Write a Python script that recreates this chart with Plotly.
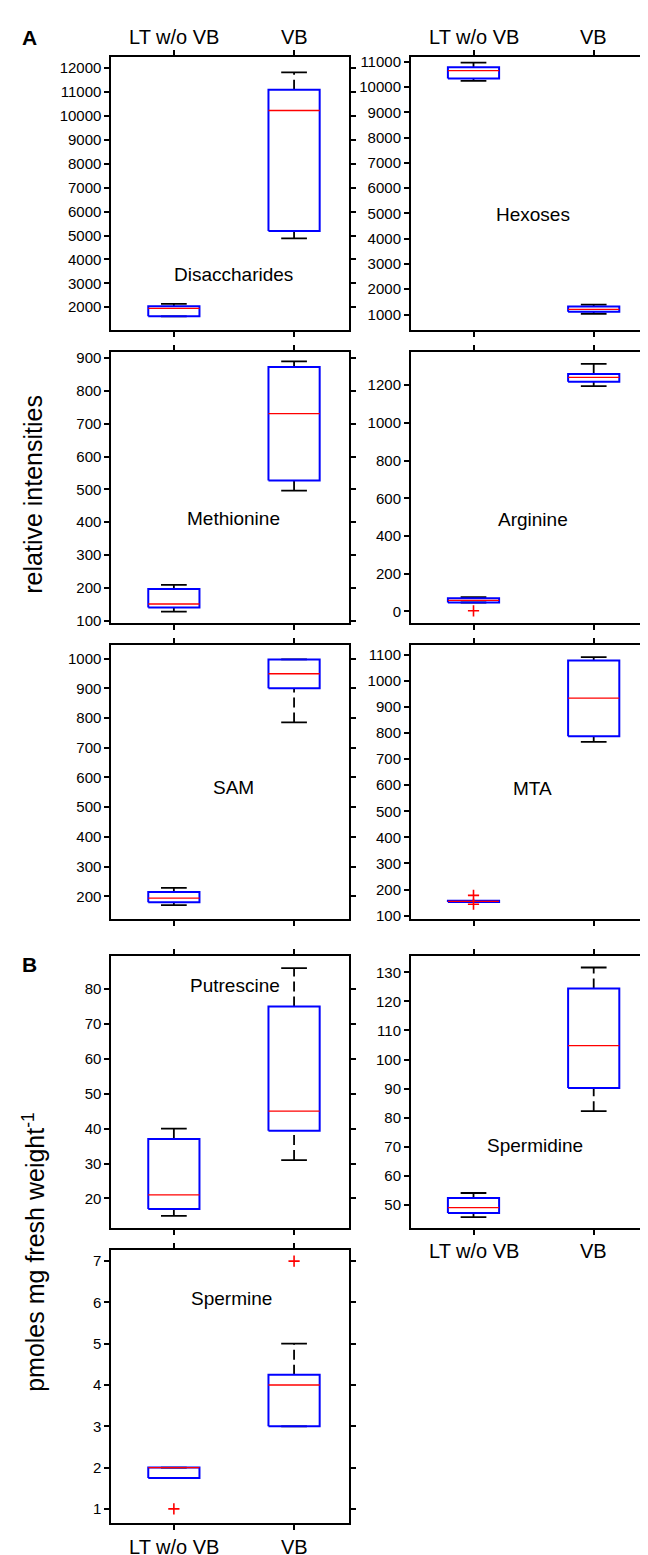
import plotly.graph_objects as go

# ---------------- data ----------------
categories = ["LT w/o VB", "VB"]
panel_names = ["Disaccharides", "Hexoses", "Methionine", "Arginine", "SAM", "MTA",
               "Putrescine", "Spermidine", "Spermine"]

# box-plot statistics per panel (lower whisker, Q1, median, Q3, upper whisker)
lt_low  = [1620, 10240, 128, 47, 170, 153, 15, 45.7, 1.75]
lt_q1   = [1620, 10340, 140, 47, 180, 153, 17, 47.1, 1.75]
lt_med  = [1950, 10650, 151, 58, 194, 155, 21, 49.0, 2.0]
lt_q3   = [2040, 10780, 197, 70, 214, 157, 37, 52.3, 2.0]
lt_high = [2140, 10960, 209, 76, 228, 157, 40, 54.0, 2.0]

vb_low  = [4880, 1030, 496, 1195, 785, 766, 31.0, 82.2, 3.0]
vb_q1   = [5190, 1110, 527, 1218, 900, 787, 39.4, 90.2, 3.0]
vb_med  = [10230, 1200, 731, 1242, 949, 933, 45.0, 104.8, 4.0]
vb_q3   = [11100, 1315, 873, 1260, 997, 1077, 75.0, 124.5, 4.25]
vb_high = [11820, 1395, 890, 1313, 997, 1090, 86.0, 131.7, 5.0]

lt_outliers = [[], [], [], [3], [], [178, 144], [], [], [1]]
vb_outliers = [[], [], [], [], [], [], [], [], [7]]

y_ticks = [
    [2000, 3000, 4000, 5000, 6000, 7000, 8000, 9000, 10000, 11000, 12000],
    [1000, 2000, 3000, 4000, 5000, 6000, 7000, 8000, 9000, 10000, 11000],
    [100, 200, 300, 400, 500, 600, 700, 800, 900],
    [0, 200, 400, 600, 800, 1000, 1200],
    [200, 300, 400, 500, 600, 700, 800, 900, 1000],
    [100, 200, 300, 400, 500, 600, 700, 800, 900, 1000, 1100],
    [20, 30, 40, 50, 60, 70, 80],
    [50, 60, 70, 80, 90, 100, 110, 120, 130],
    [1, 2, 3, 4, 5, 6, 7],
]
y_ranges = [[1030, 12450], [370, 11170], [93, 920], [-62, 1379], [123, 1047],
            [87, 1138], [11.4, 89.5], [41.8, 135.7], [0.66, 7.27]]

ytitle_a = "relative intensities"
ytitle_b = "pmoles mg fresh weight<sup>-1</sup>"

# ---------------- layout geometry (pixels) ----------------
W, H = 648, 1555
col_px = [(104, 343), (405.5, 644.5)]
row_px = [(45.7, 320.5), (341.7, 615), (636.7, 913), (950, 1224.3), (1246, 1520.7)]
panel_cell = [(0, 0), (0, 1), (1, 0), (1, 1), (2, 0), (2, 1), (3, 0), (3, 1), (4, 0)]
label_px = [(226.5, 264), (528, 204), (227, 510), (528, 511), (227, 781),
            (528, 782), (228, 980), (530, 1141), (225, 1295)]
x_range = [0.48, 2.456]
HALF_W = 0.213
CAP_W = 0.107
FONT = "Liberation Sans, Arial, sans-serif"
BLUE, RED, BLACK = "#0000ff", "#ff0000", "#000000"


def py(p):
    return 1 - p / H


fig = go.Figure()
annotations = []

for i, name in enumerate(panel_names):
    r, c = panel_cell[i]
    sfx = "" if i == 0 else str(i + 1)
    xa, ya = "x" + sfx, "y" + sfx
    x0, x1 = col_px[c]
    t, b = row_px[r]
    fig.update_layout(**{
        "xaxis" + sfx: dict(domain=[x0 / W, x1 / W], anchor=ya, range=x_range,
                            tickvals=[1, 2], showticklabels=False, ticks="outside",
                            ticklen=5, tickwidth=1.5, tickcolor=BLACK,
                            showline=True, linecolor=BLACK, linewidth=2,
                            mirror="ticks", showgrid=False, zeroline=False),
        "yaxis" + sfx: dict(domain=[py(b), py(t)], anchor=xa, range=y_ranges[i],
                            tickvals=y_ticks[i], tickformat="d",
                            ticks="outside", ticklen=5,
                            tickwidth=1.5, tickcolor=BLACK,
                            tickfont=dict(family=FONT, size=15, color=BLACK),
                            showline=True, linecolor=BLACK, linewidth=2,
                            mirror="ticks", showgrid=False, zeroline=False),
    })

    groups = [
        (lt_low[i], lt_q1[i], lt_med[i], lt_q3[i], lt_high[i], lt_outliers[i]),
        (vb_low[i], vb_q1[i], vb_med[i], vb_q3[i], vb_high[i], vb_outliers[i]),
    ]
    for k, (lo, q1, med, q3, hi, outs) in enumerate(groups):
        pos = k + 1
        common = dict(xaxis=xa, yaxis=ya, showlegend=False, hoverinfo="skip",
                      mode="lines")
        # whiskers (dashed)
        fig.add_trace(go.Scatter(x=[pos, pos, None, pos, pos],
                                 y=[q3, hi, None, lo, q1],
                                 line=dict(color=BLACK, width=1.8, dash="10px,5px"),
                                 **common))
        # caps
        fig.add_trace(go.Scatter(x=[pos - CAP_W, pos + CAP_W, None, pos - CAP_W, pos + CAP_W],
                                 y=[hi, hi, None, lo, lo],
                                 line=dict(color=BLACK, width=1.8), **common))
        # box
        fig.add_trace(go.Scatter(x=[pos - HALF_W, pos + HALF_W, pos + HALF_W, pos - HALF_W, pos - HALF_W],
                                 y=[q1, q1, q3, q3, q1],
                                 line=dict(color=BLUE, width=2), **common))
        # median
        fig.add_trace(go.Scatter(x=[pos - HALF_W, pos + HALF_W], y=[med, med],
                                 line=dict(color=RED, width=1.3), **common))
        # outliers
        if outs:
            fig.add_trace(go.Scatter(x=[pos] * len(outs), y=outs, mode="markers",
                                     xaxis=xa, yaxis=ya, showlegend=False,
                                     hoverinfo="skip",
                                     marker=dict(symbol="cross-thin", size=8, color=RED,
                                                 line=dict(color=RED, width=1.6))))

    lx, ly = label_px[i]
    annotations.append(dict(text=name, x=lx / W, y=py(ly), xref="paper", yref="paper",
                            xanchor="center", yanchor="middle", showarrow=False,
                            font=dict(family=FONT, size=19, color=BLACK)))

# category labels
cat_label_rows = [("x", 25), ("x2", 25), ("x8", 1247), ("x9", 1545)]
for xref, ypix in cat_label_rows:
    for k, cat in enumerate(categories):
        annotations.append(dict(text=cat, x=k + 1, xref=xref, y=py(ypix), yref="paper",
                                xanchor="center", yanchor="middle", showarrow=False,
                                font=dict(family=FONT, size=20, color=BLACK)))

# section letters
for letter, ypix in [("A", 25.5), ("B", 958.5)]:
    annotations.append(dict(text="<b>" + letter + "</b>", x=21.5 / W, y=py(ypix),
                            xref="paper", yref="paper", xanchor="center",
                            yanchor="middle", showarrow=False,
                            font=dict(family=FONT, size=21, color=BLACK)))

# y titles
annotations.append(dict(text=ytitle_a, x=25 / W, y=py(485), xref="paper", yref="paper",
                        xanchor="center", yanchor="middle", textangle=-90,
                        showarrow=False, font=dict(family=FONT, size=25, color=BLACK)))
annotations.append(dict(text=ytitle_b, x=26 / W, y=py(1248), xref="paper", yref="paper",
                        xanchor="center", yanchor="middle", textangle=-90,
                        showarrow=False, font=dict(family=FONT, size=25, color=BLACK)))

fig.update_layout(width=W, height=H, autosize=False,
                  margin=dict(l=0, r=0, t=0, b=0),
                  paper_bgcolor="white", plot_bgcolor="white",
                  annotations=annotations)

fig.write_html("out.html")
